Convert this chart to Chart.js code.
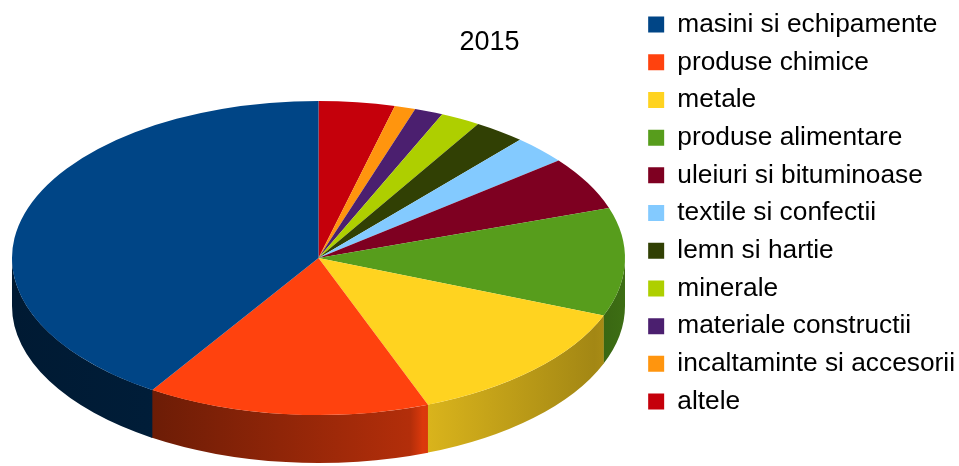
<!DOCTYPE html>
<html>
<head>
<meta charset="utf-8">
<script src="https://cdn.jsdelivr.net/npm/chart.js@4/dist/chart.umd.min.js"></script>
<style>
  body { margin: 0; background: #fff; }
  #wrap { width: 959px; height: 466px; }
</style>
</head>
<body>
<div id="wrap"><canvas id="pieChart"></canvas></div>
<script>
const categories = [
  "masini si echipamente", "produse chimice", "metale", "produse alimentare",
  "uleiuri si bituminoase", "textile si confectii", "lemn si hartie", "minerale",
  "materiale constructii", "incaltaminte si accesorii", "altele"
];
const shares2015 = [40.8, 14.9, 13.2, 11.1, 5.5, 2.9, 2.7, 2.1, 1.5, 1.1, 4.0];
const sliceColors = [
  "#004586", "#ff420e", "#ffd320", "#579d1c", "#7e0021", "#83caff",
  "#314004", "#aecf00", "#4b1f6f", "#ff950e", "#c5000b"
];

// the reference runs counter-clockwise from 12 o'clock, chart.js runs clockwise,
// so the dataset is reversed and the legend flipped back
const rev = arr => arr.slice().reverse();

// 3d look: squash the pie to an ellipse and draw a side wall under it
const pie3d = {
  cx: 318.5, cy: 258, rx: 306.5, ry: 157, depth: 48,
  // brightness of the side wall across the pie width
  shade: [[0, 0.38], [0.22, 0.42], [0.65, 0.70], [0.67, 0.86], [0.95, 0.64], [1, 0.70]]
};

function darker(hex, f) {
  const n = parseInt(hex.slice(1), 16);
  const r = Math.round(((n >> 16) & 255) * f);
  const g = Math.round(((n >> 8) & 255) * f);
  const b = Math.round((n & 255) * f);
  return `rgb(${r},${g},${b})`;
}

const pie3dPlugin = {
  id: 'pie3d',
  beforeDatasetsDraw(chart) {
    const ctx = chart.ctx;
    const arcs = chart.getDatasetMeta(0).data;
    const colors = chart.data.datasets[0].backgroundColor;
    const { cx, cy, rx, ry, depth, shade } = pie3d;

    arcs.forEach((arc, i) => {
      const a0 = Math.max(arc.startAngle, 0);
      const a1 = Math.min(arc.endAngle + 0.004, Math.PI);
      if (a1 <= a0) return;
      const grad = ctx.createLinearGradient(cx - rx, 0, cx + rx, 0);
      shade.forEach(([t, f]) => grad.addColorStop(t, darker(colors[i], f)));
      ctx.beginPath();
      ctx.ellipse(cx, cy, rx, ry, 0, a0, a1, false);
      ctx.ellipse(cx, cy + depth, rx, ry, 0, a1, a0, true);
      ctx.closePath();
      ctx.fillStyle = grad;
      ctx.fill();
    });

    const first = arcs[0];
    const r = first.outerRadius;
    ctx.save();
    ctx.translate(cx, cy);
    ctx.scale(rx / r, ry / r);
    ctx.translate(-first.x, -first.y);
  },
  afterDatasetsDraw(chart) {
    chart.ctx.restore();
  }
};

Chart.defaults.font.family = "'Liberation Sans', Arial, sans-serif";

new Chart(document.getElementById('pieChart'), {
  type: 'pie',
  data: {
    labels: rev(categories),
    datasets: [{
      data: rev(shares2015),
      backgroundColor: rev(sliceColors),
      borderWidth: 0
    }]
  },
  options: {
    responsive: true,
    maintainAspectRatio: false,
    animation: false,
    layout: { padding: { left: 14, right: -6 } },
    plugins: {
      title: {
        display: true,
        text: '2015',
        color: '#000',
        font: { size: 27, weight: 'normal' },
        padding: { top: 26, bottom: 0 }
      },
      legend: {
        position: 'right',
        align: 'start',
        reverse: true,
        labels: {
          color: '#000',
          font: { size: 26.3 },
          boxWidth: 16,
          boxHeight: 16,
          padding: 11.4
        }
      },
      tooltip: { enabled: false }
    }
  },
  plugins: [pie3dPlugin]
});
</script>
</body>
</html>
